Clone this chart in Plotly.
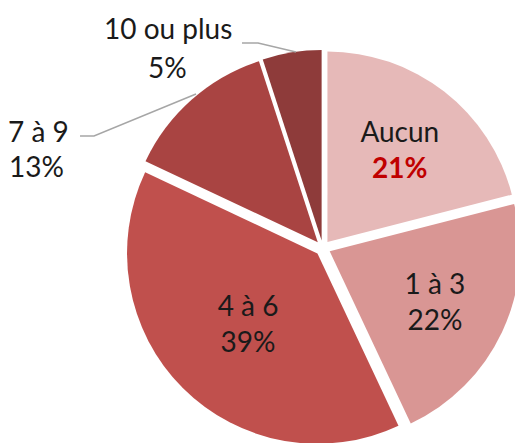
import plotly.graph_objects as go

# figure is slightly larger than the 515x443 window so the pie can touch the edge (overflow hidden)
W, H = 522, 452

labels = ["Aucun", "1 à 3", "4 à 6", "7 à 9", "10 ou plus"]
values = [21, 22, 39, 13, 5]
colors = ["#e6b9b8", "#d99694", "#c0504d", "#a94442", "#8e3b3a"]
templates = [
    "%{label}<br><b><span style='color:#c00000'>%{percent:.0%}</span></b>",
    "%{label}<br>%{percent:.0%}",
    "%{label}<br>%{percent:.0%}",
    "",
    "",
]
pulls = [0.04, 0.04, 0.04, 0.04, 0.04]

# outside labels (text, px x, px y)
outside_text = [("10 ou plus", 168, 28), ("5%", 167, 67), ("7 à 9", 38, 131), ("13%", 36, 166)]
# leader lines (pixel polylines)
leaders = [
    [(242, 43), (258, 43), (296, 52)],
    [(80, 136), (94, 136), (196, 94)],
]

FONT = "Lato"
FS = 28

fig = go.Figure(go.Pie(
    labels=labels, values=values, sort=False, direction="clockwise", rotation=0,
    marker=dict(colors=colors, line=dict(width=0)),
    pull=pulls,
    texttemplate=templates,
    textposition="inside",
    insidetextorientation="horizontal",
    textfont=dict(family=FONT, size=FS, color="#1a1a1a"),
    domain=dict(x=[124.8 / W, 520.8 / W], y=[1 - (248 + 198) / H, 1 - (248 - 198) / H]),
    showlegend=False,
    hoverinfo="label+percent",
))

for t, px, py in outside_text:
    fig.add_annotation(text=t, x=px / W, y=1 - py / H, xref="paper", yref="paper",
                       showarrow=False, xanchor="center", yanchor="middle",
                       font=dict(family=FONT, size=FS, color="#1a1a1a"))

for pts in leaders:
    path = "M " + " L ".join(f"{x / W:.4f},{1 - y / H:.4f}" for x, y in pts)
    fig.add_shape(type="path", path=path, xref="paper", yref="paper",
                  line=dict(color="#a6a6a6", width=1.5))

fig.update_layout(width=W, height=H, margin=dict(l=0, r=0, t=0, b=0),
                  paper_bgcolor="white", plot_bgcolor="white")

fig.write_html(
    "out.html",
    config={"displayModeBar": False},
    post_script="document.body.style.margin='0';"
                "document.documentElement.style.overflow='hidden';"
                "document.body.style.overflow='hidden';",
)
